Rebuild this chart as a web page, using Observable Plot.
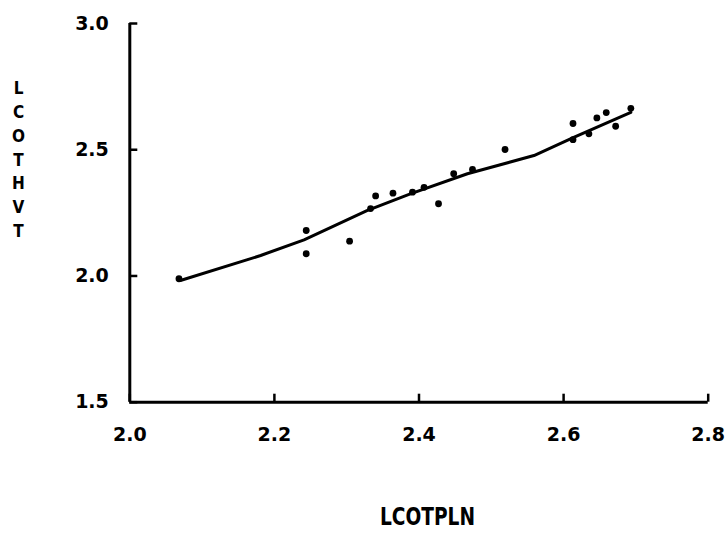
<!DOCTYPE html>
<html>
<head>
<meta charset="utf-8">
<script src="https://cdn.jsdelivr.net/npm/d3@7"></script>
<script src="https://cdn.jsdelivr.net/npm/@observablehq/plot@0.6"></script>
<style>
  html, body { margin: 0; padding: 0; background: #fff; }
</style>
</head>
<body>
<div id="chart"></div>
<script>
// Observed points (LCOTPLN, LCOTHVT)
const obsX = [2.068, 2.244, 2.244, 2.304, 2.333, 2.340, 2.364, 2.391, 2.407, 2.427, 2.448, 2.474, 2.519, 2.613, 2.613, 2.635, 2.646, 2.659, 2.672, 2.693];
const obsY = [1.989, 2.180, 2.088, 2.138, 2.267, 2.317, 2.328, 2.332, 2.351, 2.286, 2.405, 2.422, 2.501, 2.604, 2.540, 2.563, 2.626, 2.647, 2.593, 2.664];

// Fitted line
const fitX = [2.070, 2.181, 2.241, 2.328, 2.388, 2.467, 2.559, 2.614, 2.693];
const fitY = [1.982, 2.081, 2.143, 2.259, 2.325, 2.405, 2.477, 2.549, 2.648];

const xTicks = [2.0, 2.2, 2.4, 2.6, 2.8];
const yTicks = [1.5, 2.0, 2.5, 3.0];
const xLabel = "LCOTPLN";
const yLabel = "LCOTHVT";

const points = obsX.map((x, i) => ({x, y: obsY[i]}));
const fit = fitX.map((x, i) => ({x, y: fitY[i]}));
const fmt = d3.format(".1f");
const tickFont = "'DejaVu Sans', 'Liberation Sans', sans-serif";
const condFont = "'DejaVu Sans Condensed', 'DejaVu Sans', sans-serif";

const chart = Plot.plot({
  width: 727,
  height: 536,
  marginLeft: 129.3,
  marginRight: 19.3,
  marginTop: 23,
  marginBottom: 134.3,
  style: {background: "#fff", color: "#000", fontFamily: tickFont},
  x: {domain: [2.0, 2.8], nice: false},
  y: {domain: [1.5, 3.0], nice: false},
  marks: [
    Plot.ruleX([2.0], {stroke: "#000", strokeWidth: 3}),
    Plot.ruleY([1.5], {stroke: "#000", strokeWidth: 3}),
    Plot.axisX({ticks: xTicks, tickFormat: fmt, tickSize: -8, tickPadding: 33, strokeWidth: 2.5,
      fontSize: 19, fontWeight: "bold", fontFamily: tickFont, label: null}),
    Plot.axisY({ticks: yTicks, tickFormat: fmt, tickSize: -8, tickPadding: 29, strokeWidth: 2.5,
      fontSize: 19, fontWeight: "bold", fontFamily: tickFont, label: null}),
    Plot.line(fit, {x: "x", y: "y", stroke: "#000", strokeWidth: 3}),
    Plot.dot(points, {x: "x", y: "y", r: 3.4, fill: "#000", stroke: "none"}),
    Plot.text([yLabel.split("").join("\n")], {frameAnchor: "top-left", dx: -111.3, dy: 134.5,
      lineAnchor: "middle", textAnchor: "middle", lineHeight: 1.4, fontSize: 17, fontWeight: "bold",
      fontFamily: condFont, fill: "#000"}),
    Plot.text([xLabel], {frameAnchor: "bottom", dx: 8.5, dy: 115.3, lineAnchor: "middle",
      fontSize: 24, fontWeight: "bold", fill: "#000", fontFamily: condFont})
  ]
});
// squeeze the x-axis title to the narrow width used in the reference
d3.select(chart).selectAll("text")
  .filter(function() { return this.textContent === xLabel; })
  .attr("textLength", 95).attr("lengthAdjust", "spacingAndGlyphs");
document.getElementById("chart").appendChild(chart);
</script>
</body>
</html>
